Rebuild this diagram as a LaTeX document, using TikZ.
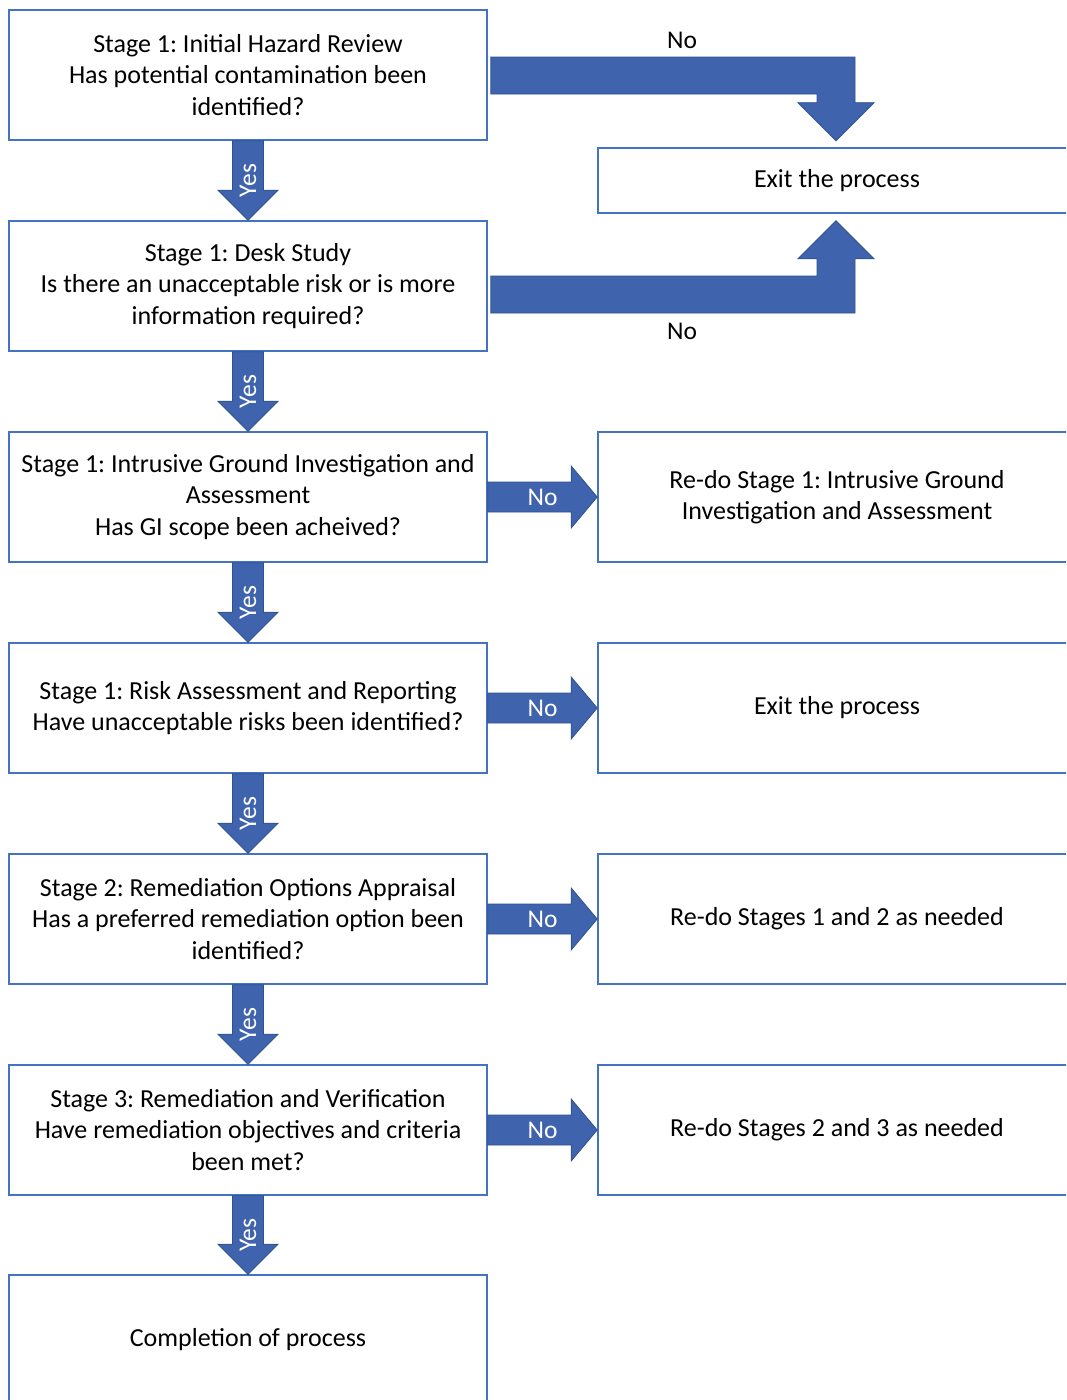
\documentclass[tikz,border=0pt]{standalone}
\usepackage{fontspec}
\setmainfont{Carlito}
\usetikzlibrary{calc}
\frenchspacing
\definecolor{boxblue}{HTML}{4472C4}
\definecolor{arrowblue}{HTML}{3F63AD}
\definecolor{arrowedge}{HTML}{2F528F}
\tikzset{
  box/.style={draw=boxblue, line width=1.6pt, fill=white, minimum width=478pt, minimum height=130pt,
    inner sep=0pt, align=center, font=\fontsize{26}{31.5}\selectfont},
  exitbox/.style={box, minimum height=65pt},
  arrowfill/.style={fill=arrowblue, draw=arrowedge, line width=0.8pt, line join=miter},
  yeslabel/.style={text=white, rotate=90, inner sep=0pt, font=\fontsize{25.5}{28}\selectfont},
  nolabel/.style={text=white, inner sep=0pt, font=\fontsize{25.5}{28}\selectfont},
  blacklabel/.style={text=black, inner sep=0pt, font=\fontsize{25.5}{28}\selectfont},
}
\newcommand{\yesarrow}[2]{%
  \path[arrowfill] ($(#1.south)+(-15.5,0)$) -- ($(#1.south)+(15.5,0)$) -- ($(#2.north)+(15.5,-30)$)
    -- ($(#2.north)+(30,-30)$) -- (#2.north) -- ($(#2.north)+(-30,-30)$) -- ($(#2.north)+(-15.5,-30)$) -- cycle;
  \node[yeslabel] at ($(#1.south)!0.5!(#2.north)$) {Yes};
}
\newcommand{\noarrow}[2]{%
  \path[arrowfill] ($(#1.east)+(0,-15)$) -- ($(#2.west)+(-26,-15)$) -- ($(#2.west)+(-26,-31)$)
    -- (#2.west) -- ($(#2.west)+(-26,31)$) -- ($(#2.west)+(-26,15)$) -- ($(#1.east)+(0,15)$) -- cycle;
  \node[nolabel] at ($(#1.east)!0.5!(#2.west)$) {No};
}
\begin{document}
\begin{tikzpicture}[x=1pt, y=-1pt]
\useasboundingbox (0,0) rectangle (1066,1400);
\fill[white] (0,0) rectangle (1066,1400);
\begin{scope}
\clip (0,0) rectangle (1066,1400);
% left column
\node[box] (b1) at (248,75) {Stage 1: Initial Hazard Review\\Has potential contamination been\\identified?};
\node[box] (b2) at (248,286) {Stage 1: Desk Study\\Is there an unacceptable risk or is more\\information required?};
\node[box] (b3) at (248,497) {Stage 1: Intrusive Ground Investigation and\\Assessment\\Has GI scope been acheived?};
\node[box] (b4) at (248,708) {Stage 1: Risk Assessment and Reporting\\Have unacceptable risks been identified?};
\node[box] (b5) at (248,919) {Stage 2: Remediation Options Appraisal\\Has a preferred remediation option been\\identified?};
\node[box] (b6) at (248,1130) {Stage 3: Remediation and Verification\\Have remediation objectives and criteria\\been met?};
\node[box] (b7) at (248,1340) {Completion of process};
% right column
\node[exitbox] (r1) at (837,180.5) {Exit the process};
\node[box] (r3) at (837,497) {Re-do Stage 1: Intrusive Ground\\Investigation and Assessment};
\node[box] (r4) at (837,708) {Exit the process};
\node[box] (r5) at (837,919) {Re-do Stages 1 and 2 as needed};
\node[box] (r6) at (837,1130) {Re-do Stages 2 and 3 as needed};
\end{scope}
% yes arrows
\yesarrow{b1}{b2}
\yesarrow{b2}{b3}
\yesarrow{b3}{b4}
\yesarrow{b4}{b5}
\yesarrow{b5}{b6}
\yesarrow{b6}{b7}
% no arrows
\noarrow{b3}{r3}
\noarrow{b4}{r4}
\noarrow{b5}{r5}
\noarrow{b6}{r6}
% elbow arrows to exit
\coordinate (e1s) at ($(b1.east)+(3,0.5)$);
\coordinate (e1t) at ($(r1.north)+(-1,-6.5)$);
\coordinate (c1) at (e1t |- e1s);
\path[arrowfill] ($(e1s)+(0,-18.5)$) -- ($(c1)+(19,-18.5)$) -- ($(e1t)+(19,-38)$) -- ($(e1t)+(38,-38)$)
  -- (e1t) -- ($(e1t)+(-38,-38)$) -- ($(e1t)+(-19,-38)$) -- ($(c1)+(-19,18.5)$) -- ($(e1s)+(0,18.5)$) -- cycle;
\coordinate (e2s) at ($(b2.east)+(3,8.5)$);
\coordinate (e2t) at ($(r1.south)+(-1,7)$);
\coordinate (c2) at (e2t |- e2s);
\path[arrowfill] ($(e2s)+(0,18.5)$) -- ($(c2)+(19,18.5)$) -- ($(e2t)+(19,38)$) -- ($(e2t)+(38,38)$)
  -- (e2t) -- ($(e2t)+(-38,38)$) -- ($(e2t)+(-19,38)$) -- ($(c2)+(-19,-18.5)$) -- ($(e2s)+(0,-18.5)$) -- cycle;
\node[blacklabel] (no1) at (682,40) {No};
\node[blacklabel] (no2) at (682,331) {No};
\end{tikzpicture}
\end{document}
